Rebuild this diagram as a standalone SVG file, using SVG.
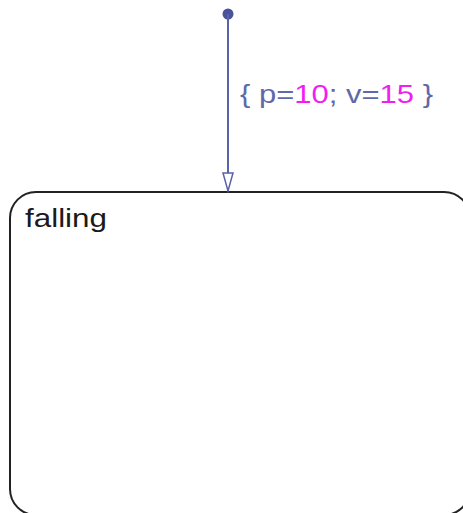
<svg xmlns="http://www.w3.org/2000/svg" width="463" height="513" viewBox="0 0 463 513">
<style>
.conn{stroke:#5a62a8;stroke-width:2;fill:none}
.lbl{font-family:"Liberation Sans",Arial,sans-serif;font-size:25px;fill:#6068aa}
.num{fill:#f01ef0}
.state{fill:#fff;stroke:#222;stroke-width:2}
.name{font-family:"Liberation Sans",Arial,sans-serif;font-size:26px;fill:#1a1a1a}
</style>
<rect width="463" height="513" fill="#fff"/>
<g id="falling">
<rect class="state" x="10" y="192" width="460" height="323" rx="26" ry="26"/>
<text class="name" x="25" y="227" textLength="82" lengthAdjust="spacingAndGlyphs">falling</text>
</g>
<g id="connectors">
<circle cx="228" cy="14" r="5.5" fill="#4a529a"/>
<line class="conn" x1="228" y1="14" x2="228" y2="191"/>
<polygon points="223,173 233,173 228,191" fill="#fff" stroke="#5a62a8" stroke-width="1.5"/>
<text class="lbl" x="240" y="103" textLength="193" lengthAdjust="spacingAndGlyphs">{ p=<tspan class="num">10</tspan>; v=<tspan class="num">15</tspan> }</text>
</g>
</svg>
